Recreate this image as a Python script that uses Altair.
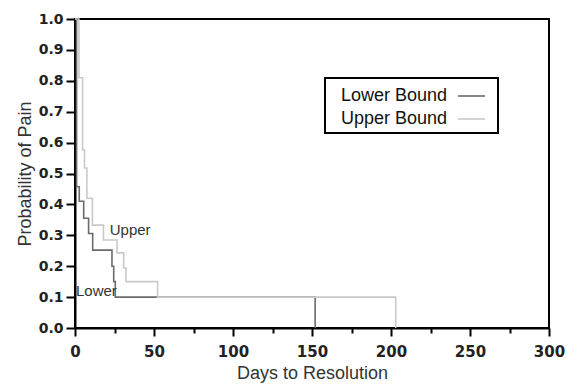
import altair as alt
import pandas as pd

# Kaplan-Meier style step curves
lower_days = [0, 1, 2.7, 5.5, 8.6, 11.2, 23.4, 24.5, 25.5, 152]
lower_prob = [1.0, 0.457, 0.41, 0.355, 0.306, 0.252, 0.2, 0.15, 0.10, 0.0]

upper_days = [0, 2.5, 4.8, 6, 7.5, 11, 18, 26.6, 30.8, 32.3, 52.3, 203]
upper_prob = [1.0, 0.81, 0.576, 0.518, 0.42, 0.333, 0.285, 0.243, 0.194, 0.15, 0.10, 0.0]

series_names = ["Lower Bound", "Upper Bound"]
series_colors = ["#6b6b6b", "#c9c9c9"]

# in-plot annotations
note_text = ["Upper", "Lower"]
note_day = [22, 0.6]
note_prob = [0.317, 0.12]

x_ticks = [0, 25, 50, 75, 100, 125, 150, 175, 200, 225, 250, 275, 300]
y_ticks = [0.0, 0.1, 0.2, 0.3, 0.4, 0.5, 0.6, 0.7, 0.8, 0.9, 1.0]

rows = []
for d, p in zip(lower_days, lower_prob):
    rows.append({"day": d, "prob": p, "series": series_names[0]})
for d, p in zip(upper_days, upper_prob):
    rows.append({"day": d, "prob": p, "series": series_names[1]})
df = pd.DataFrame(rows)
notes = pd.DataFrame({"text": note_text, "day": note_day, "prob": note_prob})

FONT = "Liberation Sans"
TICKFONT = "DejaVu Sans"

x_axis = alt.Axis(
    title="Days to Resolution",
    values=x_ticks,
    labelExpr="datum.value % 50 === 0 ? datum.label : ''",
    tickSize=alt.expr("datum.value % 50 === 0 ? 8 : 5"),
    grid=False,
    labelFont=TICKFONT,
    labelFontSize=15,
    labelFontWeight="bold",
    labelColor="#222",
    labelFlush=False,
    labelOverlap=False,
    titleFont=FONT,
    titleFontSize=18,
    titleFontWeight="normal",
    titleColor="#333",
    titlePadding=5,
    labelPadding=8,
    domainColor="black",
    domainWidth=2,
    tickColor="black",
    tickWidth=2,
)
y_axis = alt.Axis(
    title="Probability of Pain",
    values=y_ticks,
    format=".1f",
    grid=False,
    tickSize=9,
    labelFont=TICKFONT,
    labelFontSize=14,
    labelFontWeight="bold",
    labelColor="#222",
    labelOverlap=False,
    labelFlush=False,
    titleFont=FONT,
    titleFontSize=18,
    titleFontWeight="normal",
    titleColor="#333",
    titlePadding=4,
    labelPadding=3,
    domainColor="black",
    domainWidth=2,
    tickColor="black",
    tickWidth=2,
)
x_scale = alt.Scale(domain=[0, 300], nice=False)
y_scale = alt.Scale(domain=[0, 1], nice=False)

color_scale = alt.Scale(domain=series_names, range=series_colors)

lines = alt.Chart(df).mark_line(interpolate="step-after", strokeWidth=1.6).encode(
    x=alt.X("day:Q", scale=x_scale, axis=x_axis),
    y=alt.Y("prob:Q", scale=y_scale, axis=y_axis),
    color=alt.Color("series:N", scale=color_scale, legend=None),
    order=alt.Order("day:Q"),
)

note_layer = alt.Chart(notes).mark_text(
    align="left", baseline="middle", font=FONT, fontSize=15, color="#333"
).encode(
    x=alt.X("day:Q", scale=x_scale, axis=x_axis),
    y=alt.Y("prob:Q", scale=y_scale, axis=y_axis),
    text="text:N",
)

# hand-made legend box (labels left of samples, as in the reference)
leg_box = alt.Chart(pd.DataFrame({"a": [0]})).mark_rect(
    fill="white", stroke="black", strokeWidth=2
).encode(x=alt.value(250), x2=alt.value(423), y=alt.value(59), y2=alt.value(114))

leg_layers = []
for i, (name, col) in enumerate(zip(series_names, series_colors)):
    ypix = 77 + 23 * i
    src = pd.DataFrame({"series": [name]})
    leg_layers.append(
        alt.Chart(src).mark_text(
            align="left", baseline="middle", font=FONT, fontSize=18, color="#111"
        ).encode(x=alt.value(266), y=alt.value(ypix), text="series:N")
    )
    leg_layers.append(
        alt.Chart(src).mark_rule(strokeWidth=1.6, color=col).encode(
            x=alt.value(383), x2=alt.value(410), y=alt.value(ypix)
        )
    )

chart = (
    alt.layer(lines, note_layer, leg_box, *leg_layers)
    .properties(
        width=474,
        height=309,
        autosize=alt.AutoSizeParams(type="none"),
        padding={"left": 75, "top": 19, "right": 18, "bottom": 57},
        background="white",
    )
    .configure_view(stroke="black", strokeWidth=2)
    .configure_text(font=FONT)
)

chart.save("out.html", embed_options={"renderer": "svg", "actions": False})
